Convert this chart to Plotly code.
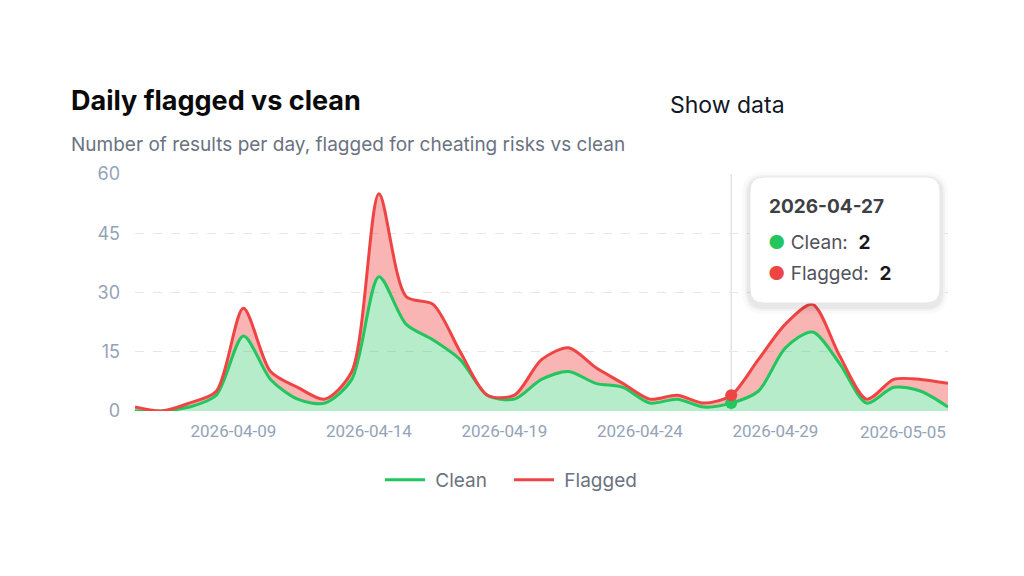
import pandas as pd
import plotly.graph_objects as go

# ---- data ----
dates = pd.date_range("2026-04-05", "2026-05-05", freq="D").strftime("%Y-%m-%d").tolist()
clean = [0, 0, 1, 4, 19, 8, 3, 2, 8, 34, 22, 18, 13, 4, 3, 8, 10, 7, 6, 2, 3, 1, 2, 5, 16, 20, 12, 2, 6, 5, 1]
flagged = [1, 0, 1, 1, 7, 2, 3, 1, 2, 21, 7, 9, 2, 0, 1, 5, 6, 4, 1, 1, 1, 1, 2, 8, 6, 7, 2, 1, 2, 3, 6]
tick_dates = ["2026-04-09", "2026-04-14", "2026-04-19", "2026-04-24", "2026-04-29"]
last_tick = "2026-05-05"
y_ticks = [0, 15, 30, 45, 60]
hover_idx = dates.index("2026-04-27")

GREEN = "#22c55e"
RED = "#ef4444"

# plot area in pixels
L, R, T, B = 135, 948, 174, 411
W, H = 1024, 576


def px(x):
    return (x - L) / (R - L)


def py(y):
    return (B - y) / (B - T)


fig = go.Figure()
fig.add_trace(go.Scatter(
    x=dates, y=clean, name="Clean", stackgroup="s", mode="lines",
    line=dict(color=GREEN, width=3, shape="spline", smoothing=0.8),
    fillcolor="rgba(34,197,94,0.33)", showlegend=False, hoverinfo="skip"))
fig.add_trace(go.Scatter(
    x=dates, y=flagged, name="Flagged", stackgroup="s", mode="lines",
    line=dict(color=RED, width=3, shape="spline", smoothing=0.8),
    fillcolor="rgba(239,68,68,0.4)", showlegend=False, hoverinfo="skip"))

# legend entries (line-only)
fig.add_trace(go.Scatter(x=[None], y=[None], mode="lines", name=" Clean",
                         line=dict(color=GREEN, width=3)))
fig.add_trace(go.Scatter(x=[None], y=[None], mode="lines", name=" Flagged",
                         line=dict(color=RED, width=3)))

# hover markers
hd = dates[hover_idx]
fig.add_trace(go.Scatter(x=[hd], y=[clean[hover_idx]], mode="markers", showlegend=False,
                         marker=dict(color=GREEN, size=12), hoverinfo="skip"))
fig.add_trace(go.Scatter(x=[hd], y=[clean[hover_idx] + flagged[hover_idx]], mode="markers",
                         showlegend=False, marker=dict(color=RED, size=12), hoverinfo="skip"))

shapes = []
# vertical cursor line
shapes.append(dict(type="line", xref="x", yref="paper", x0=hd, x1=hd, y0=0, y1=1,
                   line=dict(color="#d4d4d8", width=1), layer="below"))


def rounded_rect(x0, y0, x1, y1, r):
    pts = [
        ("M", [(x0 + r, y0)]), ("L", [(x1 - r, y0)]), ("Q", [(x1, y0), (x1, y0 + r)]),
        ("L", [(x1, y1 - r)]), ("Q", [(x1, y1), (x1 - r, y1)]), ("L", [(x0 + r, y1)]),
        ("Q", [(x0, y1), (x0, y1 - r)]), ("L", [(x0, y0 + r)]), ("Q", [(x0, y0), (x0 + r, y0)]),
    ]
    s = ""
    for cmd, ps in pts:
        s += cmd + " " + " ".join(f"{px(a):.5f},{py(b):.5f}" for a, b in ps) + " "
    return s + "Z"


tx0, ty0, tx1, ty1 = 750, 177, 940, 303
for grow, alpha in [(8, 0.02), (5, 0.03), (3, 0.04)]:
    shapes.append(dict(type="path", xref="paper", yref="paper",
                       path=rounded_rect(tx0 - grow, ty0 - grow + 3, tx1 + grow, ty1 + grow + 3, 14 + grow),
                       fillcolor=f"rgba(0,0,0,{alpha})", line=dict(width=0), layer="above"))
shapes.append(dict(type="path", xref="paper", yref="paper",
                   path=rounded_rect(tx0, ty0, tx1, ty1, 14),
                   fillcolor="white", line=dict(color="#e5e7eb", width=1), layer="above"))

FONT = "Inter, 'Open Sans', sans-serif"
XFONT = "Roboto, Inter, sans-serif"
annotations = [
    dict(text="<b>Daily flagged vs clean</b>", x=px(69), y=py(100), xref="paper", yref="paper",
         xanchor="left", yanchor="middle", showarrow=False,
         font=dict(family=FONT, size=27, color="#0a0a0a")),
    dict(text="Number of results per day, flagged for cheating risks vs clean", x=px(69), y=py(144),
         xref="paper", yref="paper", xanchor="left", yanchor="middle", showarrow=False,
         font=dict(family=FONT, size=19, color="#6b7280")),
    dict(text="Show data", x=px(668), y=py(105), xref="paper", yref="paper",
         xanchor="left", yanchor="middle", showarrow=False,
         font=dict(family=FONT, size=23, color="#111827")),
    dict(text=last_tick, x=last_tick, y=py(432), xref="x", yref="paper",
         xanchor="right", yanchor="middle", showarrow=False,
         font=dict(family=XFONT, size=17, color="#94a3b8")),
    # tooltip
    dict(text="<b>" + hd + "</b>", x=px(767), y=py(206), xref="paper", yref="paper",
         xanchor="left", yanchor="middle", showarrow=False,
         font=dict(family=FONT, size=19, color="#3f3f46")),
    dict(text=f'<span style="color:{GREEN}">●</span> Clean:  <b><span style="color:#18181b">{clean[hover_idx]}</span></b>',
         x=px(766), y=py(242), xref="paper", yref="paper", xanchor="left", yanchor="middle",
         showarrow=False, font=dict(family=FONT, size=19, color="#52525b")),
    dict(text=f'<span style="color:{RED}">●</span> Flagged:  <b><span style="color:#18181b">{flagged[hover_idx]}</span></b>',
         x=px(766), y=py(273), xref="paper", yref="paper", xanchor="left", yanchor="middle",
         showarrow=False, font=dict(family=FONT, size=19, color="#52525b")),
]

fig.update_layout(
    width=W, height=H,
    margin=dict(l=L, r=W - R, t=T, b=H - B),
    paper_bgcolor="white", plot_bgcolor="white",
    font=dict(family=FONT),
    hovermode=False,
    shapes=shapes, annotations=annotations,
    legend=dict(orientation="h", x=px(509), xanchor="center", y=py(480), yanchor="middle",
                font=dict(family=FONT, size=19, color="#6b7280"), itemwidth=40,
                traceorder="normal", entrywidthmode="pixels", entrywidth=74),
    xaxis=dict(type="date", range=[dates[0], dates[-1]], tickvals=tick_dates, ticktext=tick_dates,
               showgrid=False, zeroline=False, showline=False, ticks="",
               tickfont=dict(family=XFONT, size=17, color="#94a3b8"),
               ticklabelshift=-10, ticklabelstandoff=8),
    yaxis=dict(range=[0, 60], tickvals=y_ticks, showgrid=True, gridcolor="#e5e7eb",
               griddash="dash", zeroline=False, showline=False, ticks="",
               tickfont=dict(family=FONT, size=18, color="#94a3b8"), ticklabelstandoff=14),
)

fig.write_html("out.html")
